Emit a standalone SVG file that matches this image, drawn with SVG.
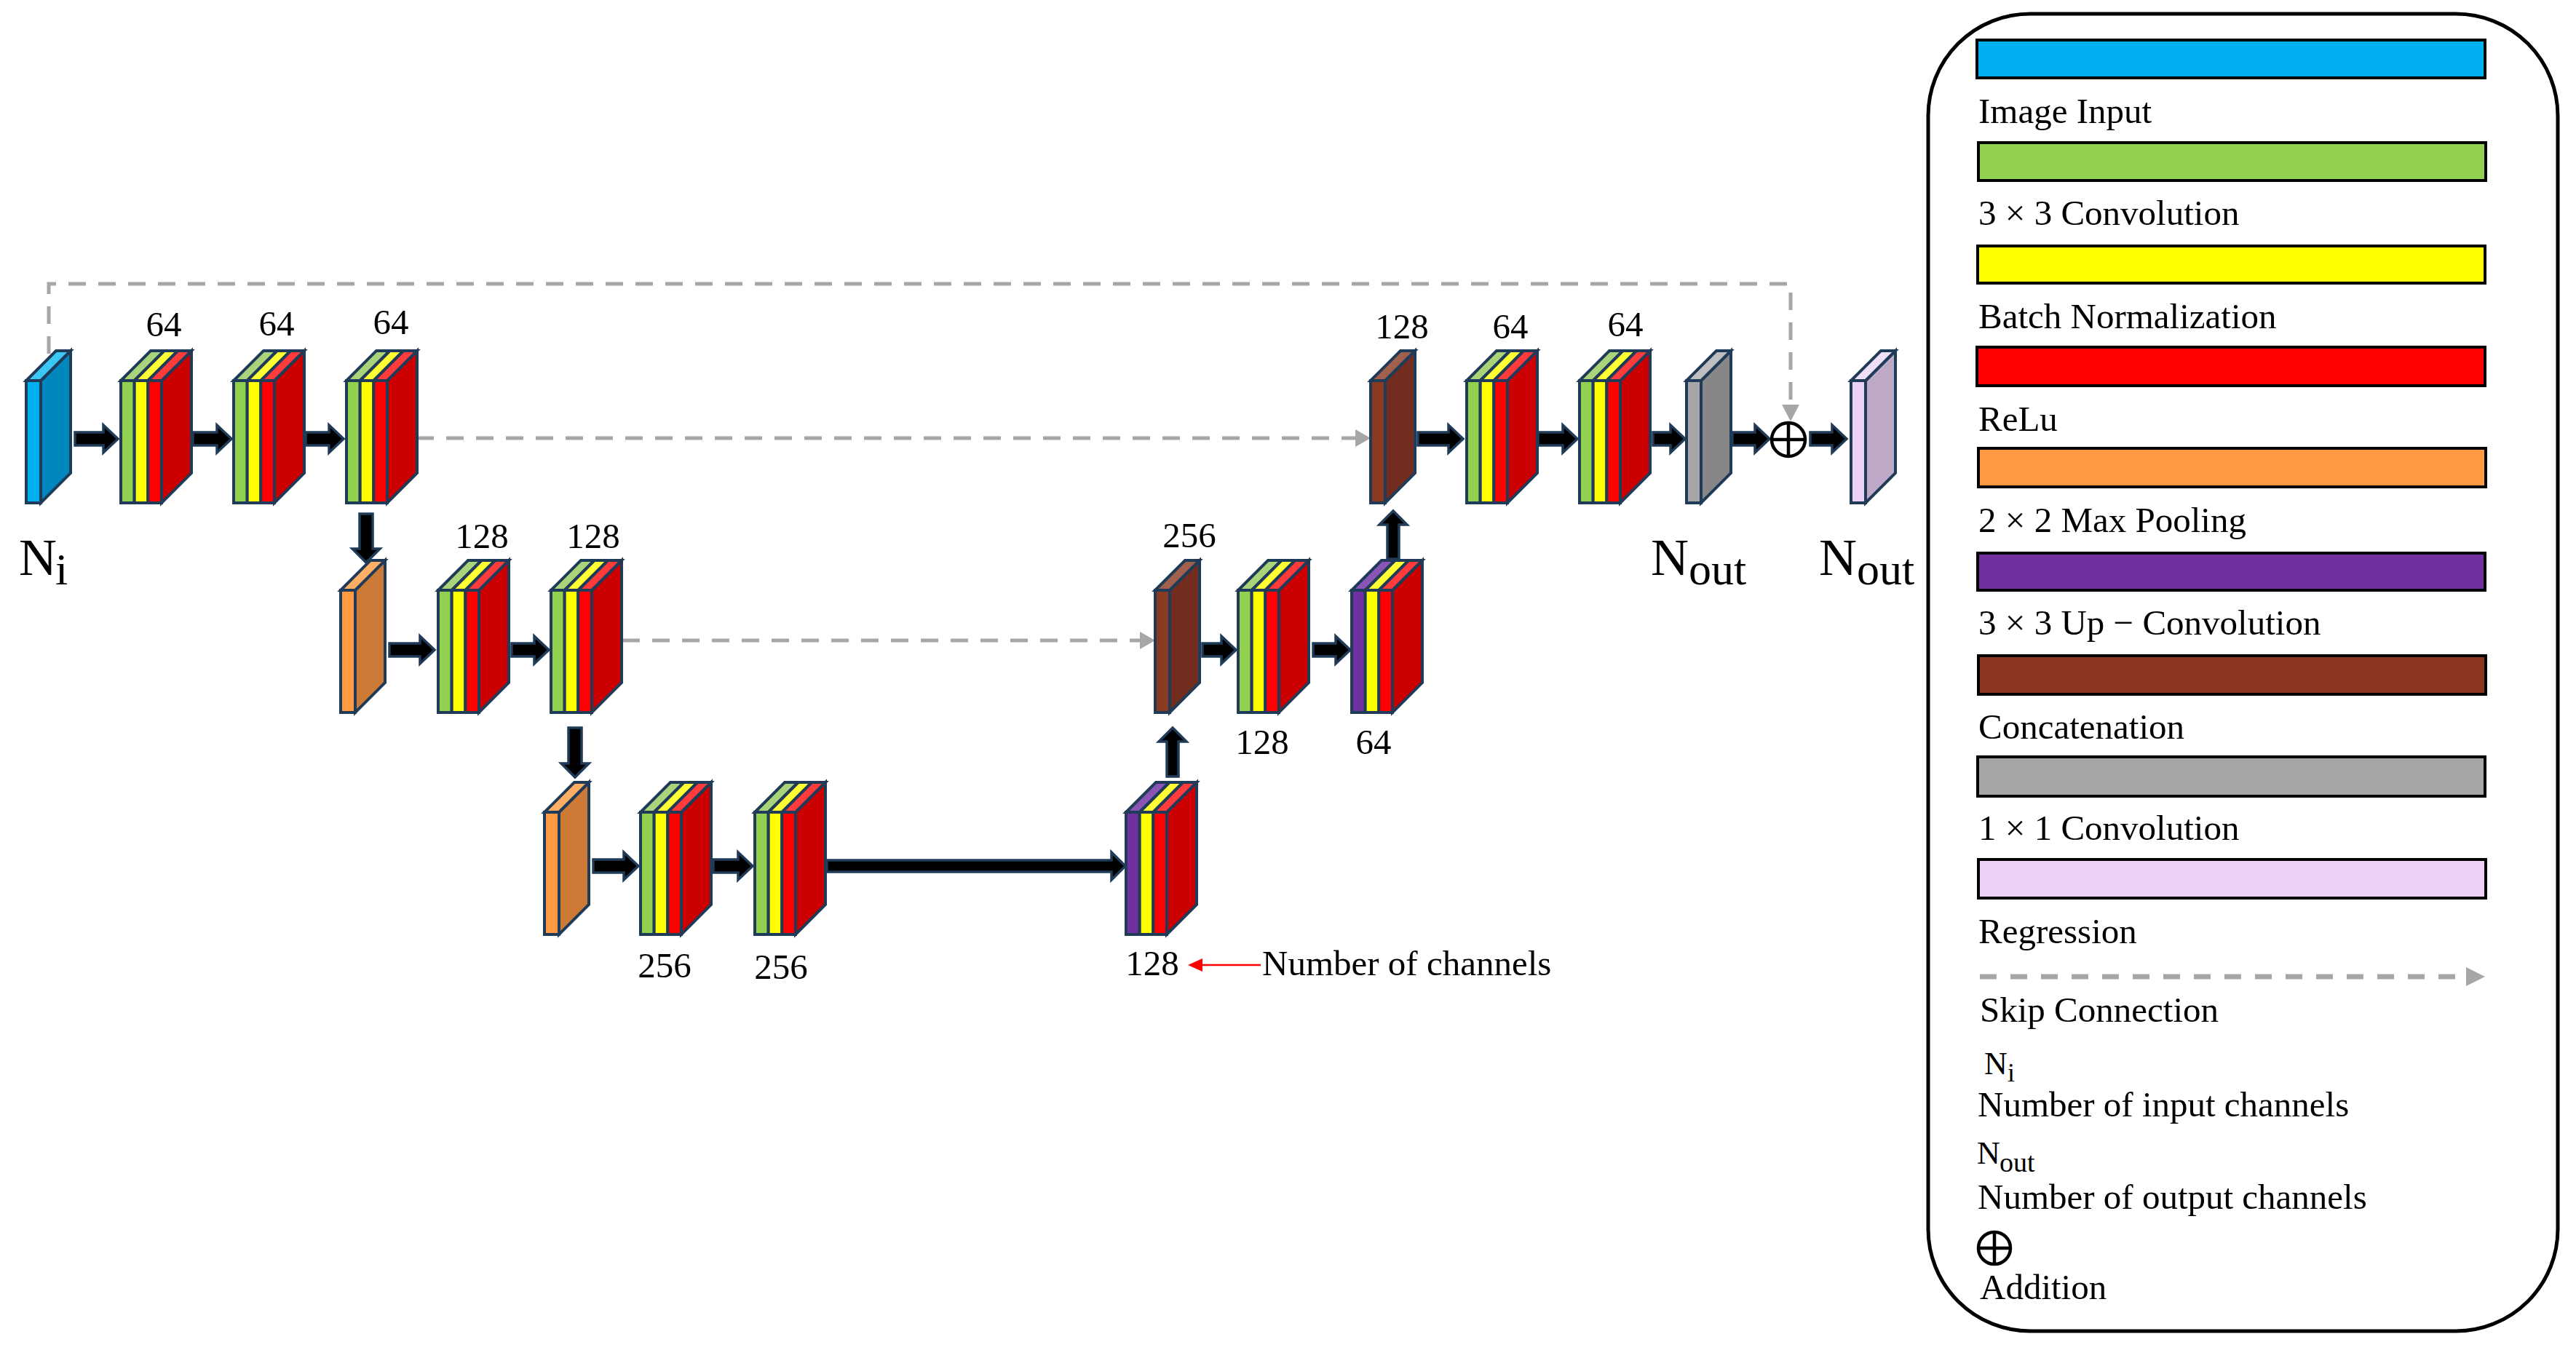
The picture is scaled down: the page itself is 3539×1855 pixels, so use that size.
<svg xmlns="http://www.w3.org/2000/svg" xmlns:xlink="http://www.w3.org/1999/xlink" width="3539" height="1855" viewBox="0 0 3539 1855">
<style>
  text { font-family: "Liberation Serif", "Times New Roman", serif; fill: #000; }
  .lbl { font-size: 49px; text-anchor: middle; }
  .leg { font-size: 49px; }
  .big { font-size: 72px; }
  .sub { font-size: 62px; }
  .b { stroke: #1f3b57; stroke-width: 4; stroke-linejoin: miter; }
  .arr { fill: #000; stroke: #1f3b57; stroke-width: 3.5; stroke-linejoin: miter; }
  .skip { fill: none; stroke: #a6a6a6; stroke-width: 5; stroke-dasharray: 24 17; }
  .skiphead { fill: #a6a6a6; }
  .bar { stroke: #000; stroke-width: 4; }
  .plus { fill: none; stroke: #000; stroke-width: 4.5; }
</style>
<defs>
  <g id="conv">
    <polygon class="b" fill="#cc0000" points="56,0 97,-41 97,127 56,168"/>
    <polygon class="b" fill="#a9d47a" points="0,0 41,-41 59.67,-41 18.67,0"/>
    <polygon class="b" fill="#ffff33" points="18.67,0 59.67,-41 78.33,-41 37.33,0"/>
    <polygon class="b" fill="#ff3b3b" points="37.33,0 78.33,-41 97,-41 56,0"/>
    <rect class="b" fill="#92d050" x="0" y="0" width="18.67" height="168"/>
    <rect class="b" fill="#ffff00" x="18.67" y="0" width="18.67" height="168"/>
    <rect class="b" fill="#ff0000" x="37.33" y="0" width="18.67" height="168"/>
  </g>
  <g id="upconv">
    <polygon class="b" fill="#cc0000" points="56,0 97,-41 97,127 56,168"/>
    <polygon class="b" fill="#8a55b5" points="0,0 41,-41 59.67,-41 18.67,0"/>
    <polygon class="b" fill="#ffff33" points="18.67,0 59.67,-41 78.33,-41 37.33,0"/>
    <polygon class="b" fill="#ff3b3b" points="37.33,0 78.33,-41 97,-41 56,0"/>
    <rect class="b" fill="#7030a0" x="0" y="0" width="18.67" height="168"/>
    <rect class="b" fill="#ffff00" x="18.67" y="0" width="18.67" height="168"/>
    <rect class="b" fill="#ff0000" x="37.33" y="0" width="18.67" height="168"/>
  </g>
  <g id="inputblk">
    <polygon class="b" fill="#0088be" points="20,0 61,-41 61,127 20,168"/>
    <polygon class="b" fill="#3cc8f5" points="0,0 41,-41 61,-41 20,0"/>
    <rect class="b" fill="#00b0f0" x="0" y="0" width="20" height="168"/>
  </g>
  <g id="poolblk">
    <polygon class="b" fill="#cc7a36" points="20,0 61,-41 61,127 20,168"/>
    <polygon class="b" fill="#ffae66" points="0,0 41,-41 61,-41 20,0"/>
    <rect class="b" fill="#ff9a42" x="0" y="0" width="20" height="168"/>
  </g>
  <g id="catblk">
    <polygon class="b" fill="#722d1e" points="20,0 61,-41 61,127 20,168"/>
    <polygon class="b" fill="#a0604c" points="0,0 41,-41 61,-41 20,0"/>
    <rect class="b" fill="#8b3a22" x="0" y="0" width="20" height="168"/>
  </g>
  <g id="c11blk">
    <polygon class="b" fill="#878787" points="20,0 61,-41 61,127 20,168"/>
    <polygon class="b" fill="#bfbfbf" points="0,0 41,-41 61,-41 20,0"/>
    <rect class="b" fill="#a6a6a6" x="0" y="0" width="20" height="168"/>
  </g>
  <g id="regblk">
    <polygon class="b" fill="#bfa9c8" points="20,0 61,-41 61,127 20,168"/>
    <polygon class="b" fill="#f0dff7" points="0,0 41,-41 61,-41 20,0"/>
    <rect class="b" fill="#ead1f5" x="0" y="0" width="20" height="168"/>
  </g>
  <g id="oplus">
    <circle class="plus" cx="0" cy="0" r="23"/>
    <line class="plus" x1="-23" y1="0" x2="23" y2="0"/>
    <line class="plus" x1="0" y1="-23" x2="0" y2="23"/>
  </g>
</defs>

<rect x="0" y="0" width="3539" height="1855" fill="#fff"/>

<!-- connectors -->
<g id="connectors">
  <!-- skip connections -->
  <path class="skip" d="M67 486 V390 H2460 V556"/>
  <polygon class="skiphead" points="2448,556 2472,556 2460,579"/>
  <path class="skip" d="M572 602 H1862"/>
  <polygon class="skiphead" points="1862,590 1862,614 1883,602"/>
  <path class="skip" d="M855 880 H1566"/>
  <polygon class="skiphead" points="1566,868 1566,892 1587,880"/>
  <!-- top row arrows -->
  <path class="arr" d="M103 594 H142 V584 L162 603 L142 622 V612 H103 Z"/>
  <path class="arr" d="M265 594 H298 V584 L318 603 L298 622 V612 H265 Z"/>
  <path class="arr" d="M420 594 H452 V584 L472 603 L452 622 V612 H420 Z"/>
  <path class="arr" d="M1948 594 H1990 V584 L2010 603 L1990 622 V612 H1948 Z"/>
  <path class="arr" d="M2113 594 H2147 V584 L2167 603 L2147 622 V612 H2113 Z"/>
  <path class="arr" d="M2271 594 H2295 V584 L2315 603 L2295 622 V612 H2271 Z"/>
  <path class="arr" d="M2380 594 H2411 V584 L2431 603 L2411 622 V612 H2380 Z"/>
  <path class="arr" d="M2487 594 H2517 V584 L2537 603 L2517 622 V612 H2487 Z"/>
  <!-- middle row arrows -->
  <path class="arr" d="M535 884 H577 V874 L597 893 L577 912 V902 H535 Z"/>
  <path class="arr" d="M703 884 H734 V874 L754 893 L734 912 V902 H703 Z"/>
  <path class="arr" d="M1652 884 H1678 V874 L1698 893 L1678 912 V902 H1652 Z"/>
  <path class="arr" d="M1804 884 H1835 V874 L1855 893 L1835 912 V902 H1804 Z"/>
  <!-- bottom row arrows -->
  <path class="arr" d="M815 1181 H857 V1171 L877 1190 L857 1209 V1199 H815 Z"/>
  <path class="arr" d="M980 1181 H1014 V1171 L1034 1190 L1014 1209 V1199 H980 Z"/>
  <path class="arr" d="M1136 1182 H1527 V1171 L1546 1190 L1527 1209 V1198 H1136 Z"/>
  <!-- vertical arrows -->
  <path class="arr" d="M494 706 V754 H484 L503 773 L522 754 H512 V706 Z"/>
  <path class="arr" d="M781 1000 V1049 H771 L790 1068 L809 1049 H799 V1000 Z"/>
  <path class="arr" d="M1603 1067 V1019 H1592 L1611 1000 L1630 1019 H1619 V1067 Z"/>
  <path class="arr" d="M1906 768 V721 H1895 L1914 702 L1933 721 H1922 V768 Z"/>
</g>

<!-- encoder level 1 -->
<g id="input">
  <use xlink:href="#inputblk" x="36" y="523"/>
  <text class="big" x="26" y="790">N</text>
  <text class="sub" x="76" y="803">i</text>
</g>
<g id="enc1a"><use xlink:href="#conv" x="166" y="523"/><text class="lbl" x="225" y="462">64</text></g>
<g id="enc1b"><use xlink:href="#conv" x="321" y="523"/><text class="lbl" x="380" y="461">64</text></g>
<g id="enc1c"><use xlink:href="#conv" x="476" y="523"/><text class="lbl" x="537" y="459">64</text></g>

<!-- encoder level 2 -->
<g id="pool1"><use xlink:href="#poolblk" x="468" y="811"/></g>
<g id="enc2a"><use xlink:href="#conv" x="602" y="811"/><text class="lbl" x="662" y="753">128</text></g>
<g id="enc2b"><use xlink:href="#conv" x="757" y="811"/><text class="lbl" x="815" y="753">128</text></g>

<!-- bottleneck -->
<g id="pool2"><use xlink:href="#poolblk" x="748" y="1116"/></g>
<g id="enc3a"><use xlink:href="#conv" x="880" y="1116"/><text class="lbl" x="913" y="1343">256</text></g>
<g id="enc3b"><use xlink:href="#conv" x="1037" y="1116"/><text class="lbl" x="1073" y="1345">256</text></g>
<g id="up1"><use xlink:href="#upconv" x="1547" y="1116"/><text class="lbl" x="1583" y="1340">128</text></g>

<!-- decoder level 2 -->
<g id="cat2"><use xlink:href="#catblk" x="1587" y="811"/><text class="lbl" x="1634" y="752">256</text></g>
<g id="dec2a"><use xlink:href="#conv" x="1701" y="811"/><text class="lbl" x="1734" y="1036">128</text></g>
<g id="up2"><use xlink:href="#upconv" x="1857" y="811"/><text class="lbl" x="1887" y="1036">64</text></g>

<!-- decoder level 1 -->
<g id="cat1"><use xlink:href="#catblk" x="1883" y="523"/><text class="lbl" x="1926" y="465">128</text></g>
<g id="dec1a"><use xlink:href="#conv" x="2015" y="523"/><text class="lbl" x="2075" y="465">64</text></g>
<g id="dec1b"><use xlink:href="#conv" x="2170" y="523"/><text class="lbl" x="2233" y="462">64</text></g>
<g id="conv1x1">
  <use xlink:href="#c11blk" x="2317" y="523"/>
  <text class="big" x="2268" y="790">N</text>
  <text class="sub" x="2320" y="803">out</text>
</g>
<g id="add"><use xlink:href="#oplus" x="2457" y="604"/></g>
<g id="regression">
  <use xlink:href="#regblk" x="2543" y="523"/>
  <text class="big" x="2499" y="790">N</text>
  <text class="sub" x="2551" y="803">out</text>
</g>

<!-- annotation -->
<g id="annotation">
  <line x1="1732" y1="1326" x2="1648" y2="1326" stroke="#ff0000" stroke-width="2.5"/>
  <polygon points="1652,1317 1652,1335 1632,1326" fill="#ff0000"/>
  <text class="leg" x="1734" y="1340">Number of channels</text>
</g>

<!-- legend -->
<g id="legend">
  <rect x="2649" y="19" width="865" height="1810" rx="140" ry="140" fill="none" stroke="#000" stroke-width="5"/>
  <rect class="bar" x="2716" y="55" width="698" height="52" fill="#00b0f0"/>
  <text class="leg" x="2718" y="169">Image Input</text>
  <rect class="bar" x="2718" y="196" width="697" height="52" fill="#92d050"/>
  <text class="leg" x="2718" y="309">3 × 3 Convolution</text>
  <rect class="bar" x="2717" y="338" width="697" height="51" fill="#ffff00"/>
  <text class="leg" x="2718" y="451">Batch Normalization</text>
  <rect class="bar" x="2716" y="477" width="698" height="53" fill="#ff0000"/>
  <text class="leg" x="2718" y="592">ReLu</text>
  <rect class="bar" x="2718" y="616" width="697" height="53" fill="#ff9a42"/>
  <text class="leg" x="2718" y="731">2 × 2 Max Pooling</text>
  <rect class="bar" x="2717" y="760" width="697" height="51" fill="#7030a0"/>
  <text class="leg" x="2718" y="872">3 × 3 Up − Convolution</text>
  <rect class="bar" x="2718" y="901" width="697" height="53" fill="#8b3620"/>
  <text class="leg" x="2718" y="1015">Concatenation</text>
  <rect class="bar" x="2717" y="1040" width="697" height="54" fill="#a6a6a6"/>
  <text class="leg" x="2718" y="1154">1 × 1 Convolution</text>
  <rect class="bar" x="2718" y="1181" width="697" height="53" fill="#eed1f5"/>
  <text class="leg" x="2718" y="1296">Regression</text>
  <line x1="2720" y1="1342" x2="3390" y2="1342" stroke="#a6a6a6" stroke-width="7" stroke-dasharray="23 19"/>
  <polygon class="skiphead" points="3388,1329 3388,1355 3414,1342"/>
  <text class="leg" x="2720" y="1404">Skip Connection</text>
  <text style="font-size:44px" x="2726" y="1476">N</text>
  <text style="font-size:36px" x="2758" y="1486">i</text>
  <text class="leg" x="2717" y="1534">Number of input channels</text>
  <text style="font-size:44px" x="2716" y="1599">N</text>
  <text style="font-size:38px" x="2747" y="1610">out</text>
  <text class="leg" x="2717" y="1661">Number of output channels</text>
  <g transform="translate(2740 1715)">
    <circle class="plus" cx="0" cy="0" r="22"/>
    <line class="plus" x1="-22" y1="0" x2="22" y2="0"/>
    <line class="plus" x1="0" y1="-22" x2="0" y2="22"/>
  </g>
  <text class="leg" x="2720" y="1785">Addition</text>
</g>
</svg>
